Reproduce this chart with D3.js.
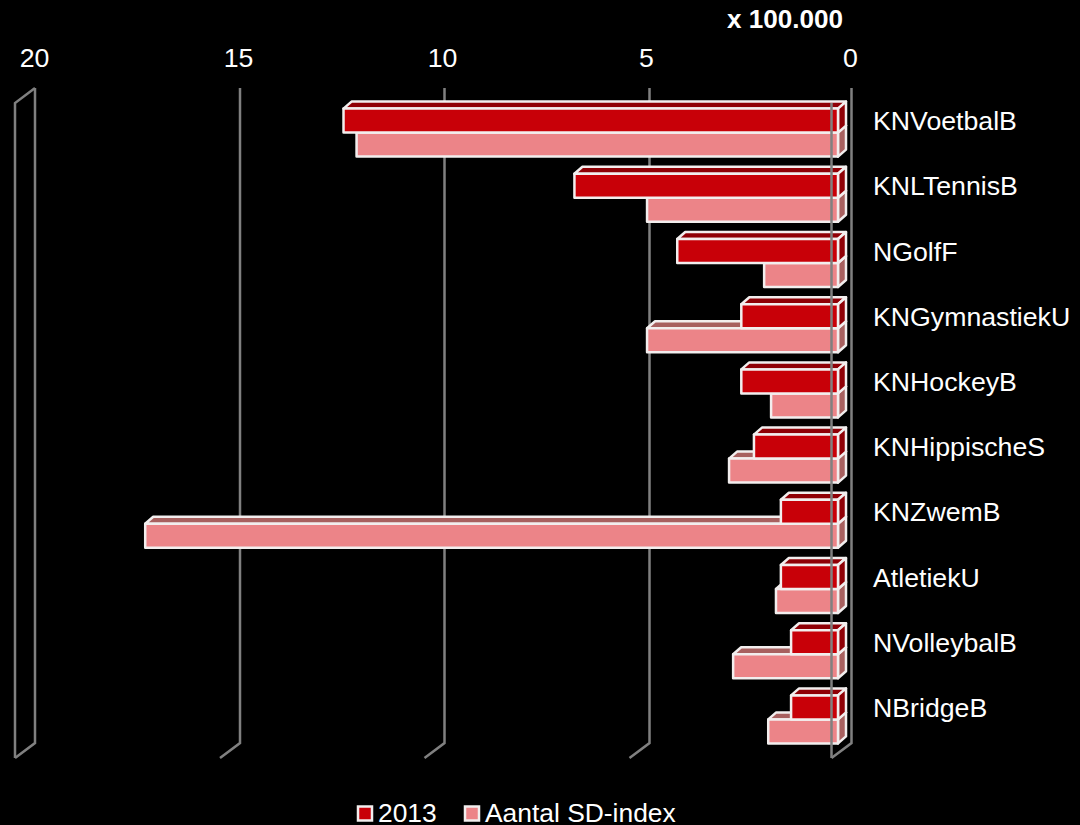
<!DOCTYPE html>
<html>
<head>
<meta charset="utf-8">
<script src="https://cdn.jsdelivr.net/npm/d3@7"></script>
<style>
  html, body { margin: 0; padding: 0; background: #000; }
  text { font-family: "Liberation Sans", Arial, sans-serif; fill: #fff; }
</style>
</head>
<body>
<script>
var bonden = ['KNVoetbalB', 'KNLTennisB', 'NGolfF', 'KNGymnastiekU', 'KNHockeyB', 'KNHippischeS', 'KNZwemB', 'AtletiekU', 'NVolleybalB', 'NBridgeB']
var waarden2013 = [12.12, 6.46, 3.94, 2.37, 2.37, 2.06, 1.40, 1.40, 1.15, 1.15]
var waardenIndex = [11.80, 4.68, 1.81, 4.68, 1.64, 2.67, 16.98, 1.52, 2.57, 1.71]
var ticks = [0, 5, 10, 15, 20]
var seriesNames = ['2013', 'Aantal SD-index']

var colors = {
  '2013': { front: '#c80008', shade: '#8f0006' },
  'Aantal SD-index': { front: '#ec8488', shade: '#a8605f' }
}
var seriesValues = { '2013': waarden2013, 'Aantal SD-index': waardenIndex }

var width = 1080,
height = 825,
gridColor = '#808080',
edgeColor = '#f2eeee'

var svg = d3.select('body')
.append('svg')
.attr('width', width)
.attr('height', height)
.style('display', 'block')

// bars and tick labels
var x = d3.scaleLinear().domain([0, 20]).range([851, 35])
// the wall lines in the picture are not quite evenly spaced
var xWall = d3.scaleLinear().domain(ticks).range([851.5, 649.5, 444.5, 240, 35])
var wallTop = 88, wallBottom = 743
var depthX = 20, depthY = 15

// bars stand part way into the box
var barShift = 13
var barDepthX = 8, barDepthY = 7

var y = d3.scaleBand().domain(bonden).range([100, 752])
var barHeight = 24

var grid = svg.append('g')
.attr('fill', 'none')
.attr('stroke', gridColor)
.attr('stroke-width', 2.5)

grid.selectAll('.wall')
.data(ticks)
.enter().append('path')
.attr('class', 'wall')
.attr('d', function(d) {
  return 'M' + xWall(d) + ' ' + wallTop + 'V' + wallBottom + 'l' + (-depthX) + ' ' + depthY
})

// left side of the box
grid.append('path')
.attr('d', 'M' + xWall(20) + ' ' + wallTop + 'l' + (-depthX) + ' ' + depthY + 'V' + (wallBottom + depthY))

var groups = svg.selectAll('.band')
.data(bonden)
.enter().append('g')
.attr('class', 'band')
.attr('transform', function(d) { return 'translate(0 ' + (y(d) + y.bandwidth() / 2) + ')' })

function drawBar(g, name, i) {
  var value = seriesValues[name][i]
  var left = x(value) - barShift
  var right = x(0) - barShift
  var top = name === '2013' ? -barHeight : 0
  var bottom = top + barHeight
  var c = colors[name]

  var bar = g.append('g')
  .attr('stroke', edgeColor)
  .attr('stroke-width', 2.5)
  .attr('stroke-linejoin', 'round')

  bar.append('path')
  .attr('fill', c.shade)
  .attr('d', 'M' + left + ' ' + top + 'l' + barDepthX + ' ' + (-barDepthY) + 'H' + (right + barDepthX) + 'l' + (-barDepthX) + ' ' + barDepthY + 'Z')

  bar.append('path')
  .attr('fill', c.shade)
  .attr('d', 'M' + right + ' ' + top + 'l' + barDepthX + ' ' + (-barDepthY) + 'V' + (bottom - barDepthY) + 'l' + (-barDepthX) + ' ' + barDepthY + 'Z')

  bar.append('rect')
  .attr('fill', c.front)
  .attr('x', left)
  .attr('y', top)
  .attr('width', right - left)
  .attr('height', barHeight)
}

groups.each(function(d, i) {
  var g = d3.select(this)
  drawBar(g, 'Aantal SD-index', i)
  drawBar(g, '2013', i)
})

// front line at zero runs over the bars
svg.append('line')
.attr('x1', xWall(0) - depthX)
.attr('x2', xWall(0) - depthX)
.attr('y1', wallTop + depthY)
.attr('y2', wallBottom + depthY)
.attr('stroke', gridColor)
.attr('stroke-width', 2.5)

var xAxis = d3.axisTop(x).tickValues(ticks).tickSize(0).tickPadding(0)
svg.append('g')
.attr('transform', 'translate(-1 67)')
.call(xAxis)
.call(function(g) { g.select('.domain').remove() })
.selectAll('text')
.style('font-family', '"Liberation Sans", Arial, sans-serif')
.style('font-size', '26.7px')
.style('fill', '#fff')

var yAxis = d3.axisRight(y).tickSize(0).tickPadding(0)
svg.append('g')
.attr('transform', 'translate(873 -11)')
.call(yAxis)
.call(function(g) { g.select('.domain').remove() })
.selectAll('text')
.style('font-family', '"Liberation Sans", Arial, sans-serif')
.style('font-size', '26.7px')
.style('fill', '#fff')

svg.append('text')
.attr('x', 843)
.attr('y', 28)
.attr('text-anchor', 'end')
.style('font-size', '26.1px')
.style('font-weight', 'bold')
.text('x 100.000')

// legend
var legendX = { '2013': 358, 'Aantal SD-index': 465 }
var legend = svg.selectAll('.legend')
.data(seriesNames)
.enter().append('g')
.attr('class', 'legend')
.attr('transform', function(d) { return 'translate(' + legendX[d] + ' 806.5)' })

legend.append('rect')
.attr('width', 14)
.attr('height', 14)
.attr('fill', function(d) { return colors[d].front })
.attr('stroke', edgeColor)
.attr('stroke-width', 2.5)

legend.append('text')
.attr('x', 20)
.attr('y', 15.5)
.style('font-size', '26.4px')
.text(function(d) { return d })
</script>
</body>
</html>
